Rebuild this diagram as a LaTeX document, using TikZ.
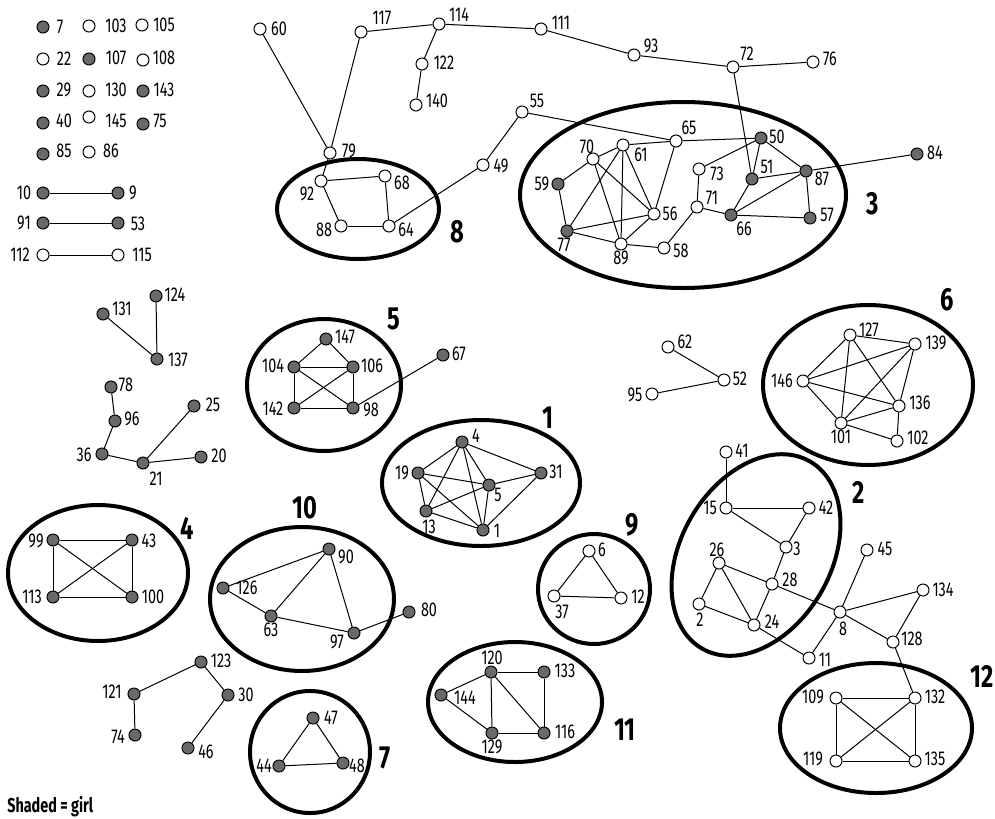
\documentclass[tikz,border=0pt]{standalone}
\usepackage{fontspec}
\setmainfont[FakeStretch=0.72]{Fira Sans}
\newfontfamily\grpfont[FakeStretch=0.74]{Fira Sans}
\definecolor{girlgray}{RGB}{105,105,105}
\tikzset{
  bnode/.style={circle,draw=black,line width=0.75pt,minimum size=9pt,inner sep=0pt,fill=white},
  gnode/.style={bnode,fill=girlgray},
  lbl/.style={font=\fontsize{15}{17}\selectfont,inner sep=0pt},
  grp/.style={font=\grpfont\bfseries\fontsize{24}{27}\selectfont,inner sep=0pt},
  ell/.style={line width=3pt},
  edge/.style={line width=0.75pt}
}
\newcommand\boyv[5]{\node[bnode] (n#1) at (#2,#3) {}; \node[lbl] (t#1) at (#4,#5) {#1};}
\newcommand\girlv[5]{\node[gnode] (n#1) at (#2,#3) {}; \node[lbl] (t#1) at (#4,#5) {#1};}
\begin{document}
\begin{tikzpicture}[x=0.75pt,y=-0.75pt]
\useasboundingbox[fill=white] (0,0) rectangle (995,818);
% group ellipses
\draw[ell] (358,209) ellipse [x radius=81,y radius=50];
\draw[ell] (683,195) ellipse [x radius=163,y radius=93];
\draw[ell] (324,385) ellipse [x radius=77,y radius=66];
\draw[ell] (481,483) ellipse [x radius=99,y radius=63];
\draw[ell] (868,385) ellipse [x radius=105,y radius=80];
\draw[ell] (876,728) ellipse [x radius=96,y radius=65];
\draw[ell] (98,573) ellipse [x radius=90,y radius=68];
\draw[ell] (302,599) ellipse [x radius=92,y radius=72];
\draw[ell] (310,752) ellipse [x radius=60,y radius=61];
\draw[ell] (594,589) ellipse [x radius=56,y radius=55];
\draw[ell] (515,702) ellipse [x radius=87,y radius=60];
\begin{scope}[shift={(756,555)},rotate=60]
\draw[ell] (0,0) ellipse [x radius=108,y radius=75];
\end{scope}
% group numbers
\node[grp] (g8) at (457,232) {8};
\node[grp] (g3) at (873,204) {3};
\node[grp] (g5) at (394,319) {5};
\node[grp] (g1) at (548,418) {1};
\node[grp] (g6) at (947,300) {6};
\node[grp] (g2) at (859,492) {2};
\node[grp,anchor=east] (g12) at (994,676) {12};
\node[grp] (g4) at (187,528) {4};
\node[grp] (g10) at (305,508) {10};
\node[grp] (g7) at (385,758) {7};
\node[grp] (g9) at (632,525) {9};
\node[grp] (g11) at (625,730) {11};
% legend isolates
\girlv{7}{43}{27}{60}{27}
\boyv{103}{89}{26}{116}{26}
\boyv{105}{142}{25}{164}{25}
\boyv{22}{43}{59}{64}{59}
\girlv{107}{89}{59}{116}{58}
\boyv{108}{143}{60}{164}{58}
\girlv{29}{43}{91}{64}{90}
\boyv{130}{89}{91}{116}{90}
\girlv{143}{143}{91}{164}{90}
\girlv{40}{43}{123}{64}{121}
\boyv{145}{89}{117}{116}{121}
\girlv{75}{143}{124}{160}{121}
\girlv{85}{43}{154}{64}{151}
\boyv{86}{89}{152}{111}{151}
\girlv{10}{43}{193}{24}{193}
\girlv{9}{118}{193}{133}{193}
\girlv{91}{43}{223}{24}{223}
\girlv{53}{118}{223}{138}{224}
\boyv{112}{43}{255}{20}{255}
\boyv{115}{118}{255}{142}{255}
% top component
\boyv{60}{260}{29}{279}{29}
\boyv{117}{361}{32}{382}{18}
\boyv{114}{439}{24}{459}{15}
\boyv{111}{541}{29}{561}{23}
\boyv{122}{422}{64}{444}{63}
\boyv{140}{416}{105}{437}{101}
\boyv{55}{522}{112}{537}{101}
\boyv{79}{330}{153}{349}{151}
\boyv{49}{483}{165}{501}{166}
\boyv{92}{321}{181}{307}{194}
\boyv{68}{385}{176}{402}{183}
\boyv{88}{341}{226}{324}{230}
\boyv{64}{389}{226}{406}{230}
\boyv{93}{634}{55}{651}{46}
\boyv{72}{733}{67}{747}{54}
\boyv{76}{813}{62}{830}{59}
\boyv{65}{676}{141}{689}{128}
\boyv{70}{593}{159}{587}{147}
\boyv{61}{623}{145}{641}{155}
\girlv{59}{558}{184}{542}{184}
\boyv{56}{654}{214}{670}{214}
\girlv{77}{567}{231}{564}{245}
\boyv{89}{621}{244}{621}{258}
\boyv{58}{664}{248}{681}{251}
\boyv{73}{699}{169}{717}{174}
\boyv{71}{697}{207}{712}{198}
\girlv{50}{761}{138}{777}{137}
\girlv{51}{752}{179}{767}{167}
\girlv{87}{806}{171}{822}{179}
\girlv{66}{731}{215}{744}{229}
\girlv{57}{810}{218}{827}{215}
\girlv{84}{917}{154}{935}{153}
% left middle
\girlv{131}{103}{314}{122}{309}
\girlv{124}{156}{296}{175}{295}
\girlv{137}{157}{359}{178}{360}
\girlv{78}{111}{387}{126}{385}
\girlv{96}{115}{421}{132}{419}
\girlv{36}{102}{454}{84}{455}
\girlv{21}{143}{463}{156}{479}
\girlv{25}{194}{406}{213}{405}
\girlv{20}{201}{457}{219}{456}
% group 5
\girlv{147}{326}{339}{345}{337}
\girlv{104}{294}{367}{273}{366}
\girlv{106}{353}{367}{372}{366}
\girlv{142}{294}{408}{273}{409}
\girlv{98}{353}{408}{371}{410}
\girlv{67}{443}{355}{459}{354}
% group 1
\girlv{4}{462}{442}{476}{436}
\girlv{19}{418}{473}{402}{473}
\girlv{31}{541}{473}{556}{472}
\girlv{5}{489}{485}{498}{495}
\girlv{13}{426}{511}{429}{527}
\girlv{1}{483}{530}{497}{531}
% right middle
\boyv{62}{668}{347}{685}{342}
\boyv{52}{724}{380}{740}{379}
\boyv{95}{652}{394}{635}{395}
% group 6
\boyv{127}{850}{335}{869}{330}
\boyv{139}{915}{344}{936}{343}
\boyv{146}{803}{381}{782}{381}
\boyv{136}{899}{406}{920}{403}
\boyv{101}{841}{423}{841}{437}
\boyv{102}{897}{441}{918}{438}
% group 2 and 12
\boyv{41}{726}{452}{742}{451}
\boyv{15}{726}{508}{710}{508}
\boyv{42}{809}{508}{826}{508}
\boyv{3}{786}{547}{797}{549}
\boyv{26}{719}{563}{717}{550}
\boyv{28}{772}{584}{790}{580}
\boyv{2}{699}{604}{700}{620}
\boyv{24}{754}{625}{772}{622}
\boyv{11}{809}{658}{825}{660}
\boyv{45}{867}{550}{885}{549}
\boyv{8}{840}{612}{843}{629}
\boyv{134}{923}{590}{943}{590}
\boyv{128}{893}{642}{912}{639}
\boyv{109}{836}{698}{813}{697}
\boyv{132}{915}{698}{935}{697}
\boyv{119}{836}{761}{813}{759}
\boyv{135}{915}{761}{935}{759}
% group 4
\girlv{99}{53}{540}{36}{541}
\girlv{43}{132}{540}{149}{541}
\girlv{113}{53}{597}{32}{597}
\girlv{100}{132}{597}{153}{597}
% group 10
\girlv{90}{329}{549}{346}{557}
\girlv{126}{223}{588}{247}{588}
\girlv{63}{271}{616}{271}{630}
\girlv{97}{354}{633}{337}{642}
\girlv{80}{409}{612}{429}{610}
\girlv{121}{134}{694}{112}{692}
\girlv{123}{201}{662}{221}{661}
\girlv{30}{228}{695}{246}{695}
\girlv{74}{135}{735}{118}{737}
\girlv{46}{188}{748}{206}{752}
% group 7
\girlv{47}{313}{718}{331}{718}
\girlv{44}{279}{766}{264}{766}
\girlv{48}{343}{763}{357}{766}
% group 9
\boyv{6}{589}{551}{602}{550}
\boyv{37}{554}{596}{562}{612}
\boyv{12}{621}{598}{638}{597}
% group 11
\girlv{120}{491}{672}{492}{658}
\girlv{133}{544}{672}{565}{671}
\girlv{144}{441}{695}{465}{698}
\girlv{129}{492}{733}{492}{747}
\girlv{116}{544}{733}{565}{732}
% ties
\foreach \a/\b in {10/9,91/53,112/115,
 60/79,117/79,117/114,114/111,114/122,122/140,111/93,93/72,72/76,72/51,
 79/92,92/68,92/88,88/64,68/64,64/49,49/55,55/65,
 70/61,70/59,70/89,70/56,61/65,61/77,61/89,61/56,59/77,77/56,77/89,89/56,89/58,56/65,65/50,
 58/71,71/73,73/50,71/66,50/51,50/87,51/87,51/66,66/87,66/57,87/57,87/84,
 131/137,124/137,78/96,96/36,36/21,21/25,21/20,
 147/104,147/106,104/106,104/142,104/98,106/142,106/98,142/98,98/67,
 4/19,4/13,4/5,4/1,4/31,19/5,19/13,19/1,13/5,13/1,5/1,5/31,31/1,
 62/52,95/52,
 127/139,127/146,127/101,127/136,146/139,146/136,146/101,139/101,139/136,101/136,101/102,136/102,
 41/15,15/42,15/3,42/3,3/28,26/28,26/2,26/24,2/24,28/24,28/8,24/11,11/8,45/8,8/134,8/128,134/128,128/132,
 109/132,109/119,109/135,132/119,132/135,119/135,
 99/43,99/113,99/100,43/113,43/100,113/100,
 126/90,126/63,63/90,63/97,90/97,97/80,
 121/123,123/30,121/74,30/46,
 47/44,47/48,44/48,
 6/37,6/12,37/12,
 120/133,120/144,120/129,120/116,133/116,144/129,129/116}
 \draw[edge] (n\a) -- (n\b);
\node[anchor=base west,inner sep=0pt,font=\bfseries\fontsize{15}{17}\selectfont] (key) at (7,812) {Shaded = girl};
\end{tikzpicture}
\end{document}
